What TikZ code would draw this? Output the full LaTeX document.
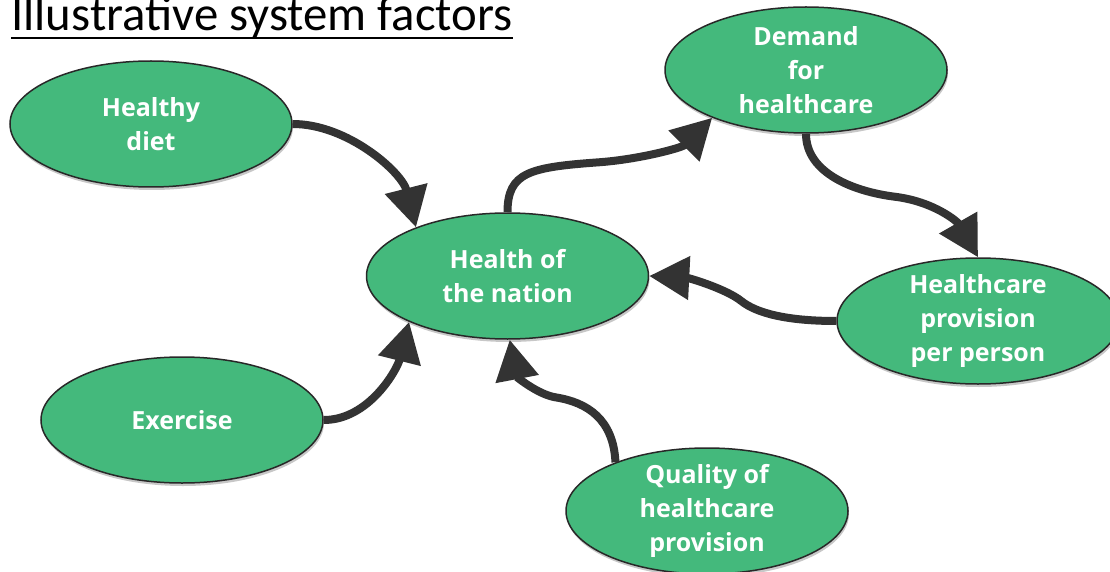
\documentclass[tikz,border=0pt]{standalone}
\usepackage{fontspec}
\newfontfamily\carlito{Carlito}
\newfontfamily\opensans{Open Sans}
\usetikzlibrary{shapes.geometric,arrows.meta,shadows}
\definecolor{nodegreen}{RGB}{68,185,124}
\definecolor{nodeedge}{RGB}{40,40,40}
\definecolor{arrowgray}{RGB}{51,51,51}
\tikzset{
  factor/.style={ellipse, draw=nodeedge, line width=1.5pt, fill=nodegreen,
    minimum width=282pt, minimum height=126pt, inner xsep=0pt, inner ysep=-6pt,
    align=center, text=white,
    font=\opensans\bfseries\fontsize{25}{34}\selectfont,
    drop shadow={shadow xshift=1pt, shadow yshift=-3pt, opacity=0.22, fill=black}},
  link/.style={draw=arrowgray, line width=8pt,
    -{Triangle[length=40pt,width=42pt]}, arrowgray}
}
\begin{document}
\begin{tikzpicture}[x=1pt,y=-1pt]
\useasboundingbox (0,0) rectangle (1110,572);
\fill[white] (0,0) rectangle (1110,572);

\node[anchor=base west, inner sep=0pt, font=\carlito\fontsize{48.8}{49}\selectfont] (title) at (11,30.5) {Illustrative system factors};
\draw[line width=2.4pt] ([yshift=-7.5pt]title.base west) -- ([yshift=-7.5pt]title.base east);

\node[factor] (diet) at (151,124) {Healthy\\diet};
\node[factor] (demand) at (806,70) {Demand\\for\\healthcare};
\node[factor] (health) at (507.5,276) {Health of\\the nation};
\node[factor] (exercise) at (182,420) {Exercise};
\node[factor] (provision) at (978,321) {Healthcare\\provision\\per person};
\node[factor] (quality) at (707,511) {Quality of\\healthcare\\provision};

\draw[link] (diet.0) .. controls +(55,0) and +(-14,-55) .. (health.152);
\draw[link] (exercise.0) .. controls +(45,0) and +(-12,48) .. (health.205);
\draw[link] (quality.152) .. controls +(-2,-43) and +(32,5) .. ++(-60,-65)
  .. controls +(-18,-3) and +(7,37) .. (health.272);
\draw[link] (provision.180) .. controls +(-50,0) and +(15,12) .. ++(-95,-20)
  .. controls +(-15,-12) and +(40,2) .. (health.0);
\draw[link] (health.90) .. controls +(0,-40) and +(-70,5) .. ++(92,-50)
  .. controls +(40,-3) and +(-30,30) .. (demand.207);
\draw[link] (demand.270) .. controls +(0,40) and +(-40,-5) .. ++(89,63)
  .. controls +(40,5) and +(-20,-35) .. (provision.90);
\end{tikzpicture}
\end{document}
